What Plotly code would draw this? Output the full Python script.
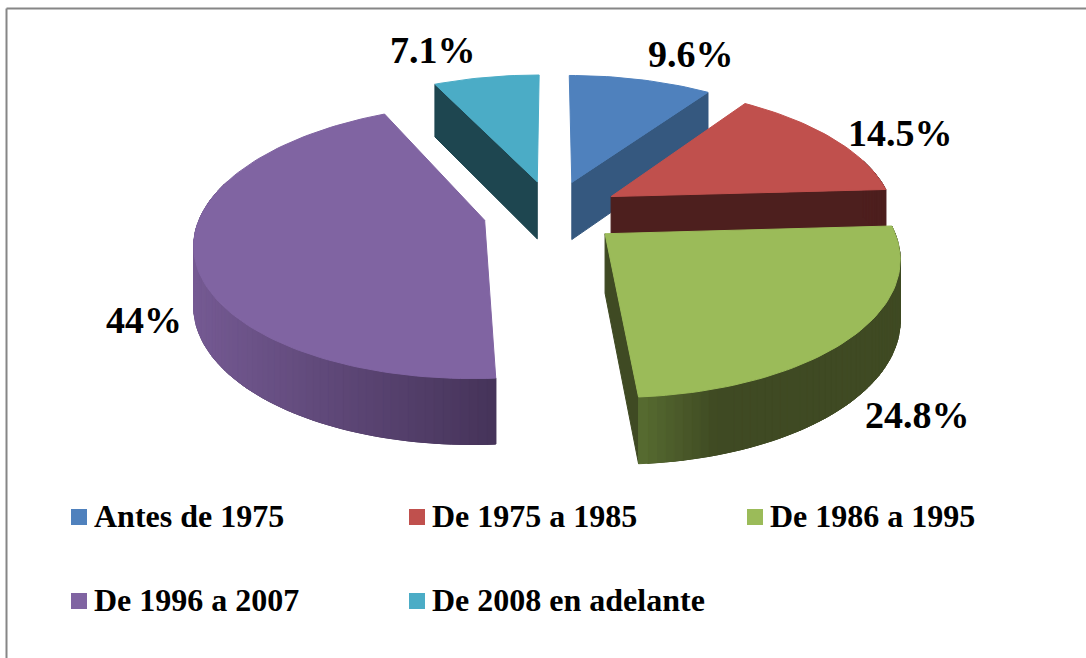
"""Exploded 3D pie of construction periods, drawn as projected polygons."""

import math

import plotly.graph_objects as go

categories = ["Antes de 1975", "De 1975 a 1985", "De 1986 a 1995", "De 1996 a 2007", "De 2008 en adelante"]
shares = [9.6, 14.5, 24.8, 44, 7.1]

top_colors = ["#4f81bd", "#c0504d", "#9bbb59", "#8064a2", "#4bacc6"]
cut_colors = ["#35587f", "#4d1f1e", "#3f4a23", "#46345a", "#1e4650"]
# wall shading from left to right of each slice's visible rim
rim_colors = [
    ("#35587f", "#35587f"),
    ("#4d1f1e", "#4d1f1e"),
    ("#566a30", "#3f4a23"),
    ("#755a93", "#46345a"),
    ("#1e4650", "#1e4650"),
]

label_pos = [(691, 54), (900, 133), (917, 415), (144, 320), (433, 50)]
legend_pos = [(79, 517), (79, 601), (417, 517), (417, 601), (755, 517)]
legend_order = [0, 3, 1, 4, 2]

CX, CY = 552, 212
PULL = 69
RADIUS = 283
SQUASH = 131.5
TILT = 0.152
ARC_STEP = 1.5
FONT = "Liberation Serif"


def project(u, v):
    # u, v are positions on the pie's plane, v pointing away from the viewer
    w = 1 + TILT * v / RADIUS
    return CX + u / w, CY - SQUASH * (v / RADIUS) / w


def drop(point):
    x, y = point
    return x, y + 57 + (y - 180) * 0.045


def mix(a, b, t):
    ca = [int(a[i:i + 2], 16) for i in (1, 3, 5)]
    cb = [int(b[i:i + 2], 16) for i in (1, 3, 5)]
    return "rgb(%d,%d,%d)" % tuple(round(p + (q - p) * t) for p, q in zip(ca, cb))


def polygon(points, color):
    xs = [p[0] for p in points] + [points[0][0]]
    ys = [p[1] for p in points] + [points[0][1]]
    return go.Scatter(
        x=xs, y=ys, mode="lines", fill="toself", fillcolor=color,
        line=dict(color=color, width=1), hoverinfo="skip", showlegend=False,
    )


def slice_traces(index, start, end):
    mid = math.radians((start + end) / 2)
    pu, pv = PULL * math.sin(mid), PULL * math.cos(mid)
    apex = project(pu, pv)
    count = max(2, int((end - start) / ARC_STEP))
    angles = [start + (end - start) * i / count for i in range(count + 1)]
    arc = [
        project(pu + RADIUS * math.sin(math.radians(a)), pv + RADIUS * math.cos(math.radians(a)))
        for a in angles
    ]
    traces = []

    # radial cuts: only those that face the viewer
    if index in (0, 1, 2):
        traces.append(polygon([apex, arc[-1], drop(arc[-1]), drop(apex)], cut_colors[index]))
    if index == 4:
        traces.append(polygon([apex, arc[0], drop(arc[0]), drop(apex)], cut_colors[index]))

    # outer rim: a plain underlay, then one shaded quad per arc step
    rim = [i for i in range(count) if math.cos(math.radians(angles[i])) < 0.3]
    if rim:
        edge = [arc[i] for i in rim]
        traces.append(polygon(edge + [drop(p) for p in reversed(edge)], rim_colors[index][1]))
        xs = [p[0] for p in edge]
        left, right = min(xs), max(xs)
        for i in rim:
            t = (arc[i][0] - left) / max(right - left, 1)
            if index == 2:
                t = min(t * 3.5, 1)
            color = mix(rim_colors[index][0], rim_colors[index][1], t)
            traces.append(polygon([arc[i], arc[i + 1], drop(arc[i + 1]), drop(arc[i])], color))

    traces.append(polygon([apex] + arc, top_colors[index]))
    return traces


fig = go.Figure()

spans = []
angle = 0.0
for share in shares:
    spans.append((angle, angle + share * 3.6))
    angle += share * 3.6

# back slices first so the front ones cover them
for index in [0, 4, 1, 3, 2]:
    for trace in slice_traces(index, *spans[index]):
        fig.add_trace(trace)

annotations = []
for share, (x, y) in zip(shares, label_pos):
    annotations.append(dict(
        x=x, y=y, text=f"<b>{share:g}%</b>", showarrow=False, xanchor="center", yanchor="middle",
        font=dict(family=FONT, size=38, color="black"),
    ))

for index, (x, y) in zip(legend_order, legend_pos):
    fig.add_trace(go.Scatter(
        x=[x], y=[y], mode="markers", hoverinfo="skip", showlegend=False,
        marker=dict(symbol="square", size=16, color=top_colors[index]),
    ))
    annotations.append(dict(
        x=x + 13, y=y - 1, text=f"<b>{categories[index]}</b>", showarrow=False,
        xanchor="left", yanchor="middle", font=dict(family=FONT, size=32, color="black"),
    ))

fig.update_layout(
    width=1086,
    height=658,
    margin=dict(l=0, r=0, t=0, b=0),
    paper_bgcolor="white",
    plot_bgcolor="white",
    xaxis=dict(range=[0, 1086], visible=False, fixedrange=True),
    yaxis=dict(range=[658, 0], visible=False, fixedrange=True),
    annotations=annotations,
    shapes=[
        dict(type="line", x0=6.5, x1=6.5, y0=8.5, y1=658, line=dict(color="#868686", width=2)),
        dict(type="line", x0=6.5, x1=1086, y0=8.5, y1=8.5, line=dict(color="#868686", width=2)),
    ],
)

fig.write_html(
    "out.html",
    config={"displayModeBar": False},
    post_script="document.body.style.margin = '0';",
)
